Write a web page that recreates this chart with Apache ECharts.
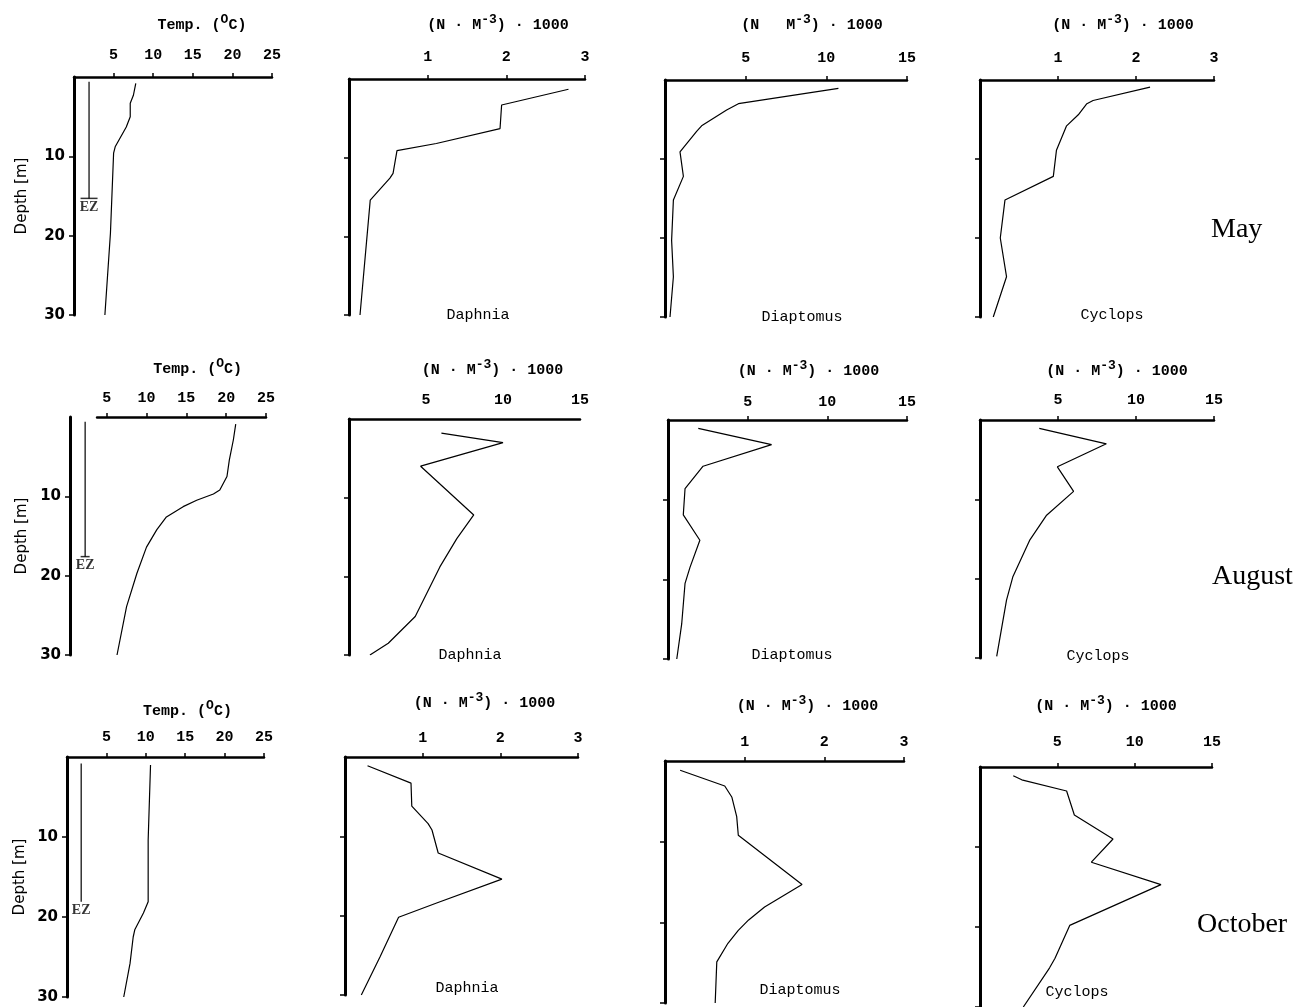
<!DOCTYPE html>
<html><head><meta charset="utf-8">
<script src="https://cdn.jsdelivr.net/npm/echarts@6/dist/echarts.min.js"></script>
<style>html,body{margin:0;padding:0;background:#fff}#c{width:1295px;height:1007px}</style>
</head><body><div id="c"></div>
<script>
// ---------------- data ----------------
const months = ['May', 'August', 'October'];
const species = ['Daphnia', 'Diaptomus', 'Cyclops'];
const tempTicks = [5, 10, 15, 20, 25];
const lowTicks = [1, 2, 3];
const highTicks = [5, 10, 15];
const depthTicks = [10, 20, 30];

// [value, depth m]
const mayTemp = [[7.8,0.8],[7.5,2.3],[7.1,3.3],[7.1,5.0],[6.6,6.3],[5.2,8.8],[5.0,9.6],[4.6,19.7],[3.9,30]];
const augTemp = [[21.2,0.9],[20.9,2.9],[20.4,5.4],[20.1,7.5],[19.2,9.2],[18.4,9.7],[16.3,10.5],[14.6,11.3],[12.5,12.6],[11.3,14.2],[10.0,16.4],[8.8,19.7],[7.5,23.9],[6.3,30]];
const octTemp = [[10.6,1.0],[10.3,10.4],[10.3,18.1],[9.7,19.5],[8.6,21.6],[8.4,22.5],[8.0,25.8],[7.2,30]];

const mayDaphnia = [[2.79,1.3],[1.94,3.3],[1.92,6.3],[1.11,8.2],[0.61,9.1],[0.56,12.0],[0.52,12.6],[0.27,15.4],[0.14,30]];
const mayDiaptomus = [[10.75,1.05],[4.55,3.0],[3.82,3.8],[2.27,5.8],[1.96,6.5],[0.93,9.1],[1.14,12.2],[0.52,15.2],[0.41,20.3],[0.52,24.9],[0.31,30]];
const mayCyclops = [[2.18,0.9],[1.45,2.6],[1.37,3.0],[1.26,4.4],[1.11,5.8],[0.98,8.9],[0.94,12.2],[0.32,15.2],[0.26,20.0],[0.34,24.9],[0.17,30]];

const augDaphnia = [[6.0,1.8],[10.0,3.0],[4.65,6.0],[8.1,12.2],[7.0,15.2],[5.9,18.8],[4.3,25.1],[2.55,28.5],[1.36,30]];
const augDiaptomus = [[1.9,1.05],[6.5,3.1],[2.2,5.8],[2.0,6.3],[1.07,8.6],[0.96,11.9],[2.0,15.1],[1.38,18.5],[1.07,20.5],[0.86,25.6],[0.55,30]];
const augCyclops = [[3.8,1.05],[8.1,3.0],[4.96,5.9],[6.0,9.0],[4.27,12.0],[3.2,15.1],[2.1,19.8],[1.7,22.7],[1.07,29.8]];

const octDaphnia = [[0.29,1.1],[0.85,3.3],[0.86,6.2],[1.07,8.4],[1.12,9.2],[1.2,12.1],[2.02,15.4],[1.18,18.4],[0.69,20.2],[0.45,25.2],[0.21,30]];
const octDiaptomus = [[0.19,1.15],[0.75,3.1],[0.84,4.5],[0.90,6.9],[0.92,9.2],[1.72,15.3],[1.25,18.1],[1.05,19.7],[0.92,21.0],[0.79,22.6],[0.65,24.9],[0.63,30]];
const octCyclops = [[2.15,1.1],[2.7,1.6],[5.6,3.0],[6.1,6.0],[8.6,9.0],[7.2,11.9],[11.7,14.7],[5.8,19.8],[4.85,23.9],[4.5,25.1],[2.8,30]];

// euphotic zone marker (temperature-axis position, top and bottom depth)
const ezTemp = [1.9, 2.3, 1.8];
const ezTop = [0.6, 0.6, 0.8];
const ezDepth = [15.3, 17.6, 18.1];

// ---------------- layout ----------------
const tempTitle = 'Temp. ({sup|O}C)';
const densTitle = '(N · M{sup|-3}) · 1000';
// g = [left, top, width, height] of the plotted area; axisStart = value where the drawn x-axis line begins
const panels = [
  // May
  {data: mayTemp, temp: 0, g:[74,77,198,238], min:0, max:25, ticks:tempTicks, title:tempTitle, gap:40, shift:29, lm:14, yName:44},
  {data: mayDaphnia, g:[349,79,236,236], min:0, max:3, ticks:lowTicks, title:densTitle, gap:42, shift:31, lm:14, sp:[478,315]},
  {data: mayDiaptomus, g:[665,80,242,237], min:0, max:15, ticks:highTicks, title:'(N   M{sup|-3}) · 1000', gap:43, shift:26, lm:14, sp:[802,317]},
  {data: mayCyclops, g:[980,80,234,237], min:0, max:3, ticks:lowTicks, title:densTitle, gap:43, shift:26, lm:14, sp:[1112,315]},
  // August
  {data: augTemp, temp: 1, g:[70,417,196,238], min:0.4, max:25, axisStart:3.8, ticks:tempTicks, title:tempTitle, gap:36, shift:16, lm:11, yName:40},
  {data: augDaphnia, g:[349,419,231,236], min:0, max:15, ticks:highTicks, title:densTitle, gap:37, shift:28, lm:11, sp:[470,655], noTick:true},
  {data: augDiaptomus, g:[668,420,239,239], min:0, max:15, ticks:highTicks, title:densTitle, gap:37, shift:21, lm:10, sp:[792,655]},
  {data: augCyclops, g:[980,420,234,238], min:0, max:15, ticks:highTicks, title:densTitle, gap:37, shift:20, lm:12, sp:[1098,656]},
  // October
  {data: octTemp, temp: 2, g:[67,757,197,240], min:0, max:25, ticks:tempTicks, title:tempTitle, gap:34, shift:22, lm:12, yName:39},
  {data: octDaphnia, g:[345,757,233,238], min:0, max:3, ticks:lowTicks, title:densTitle, gap:42, shift:23, lm:11, sp:[467,988]},
  {data: octDiaptomus, g:[665,761,239,242], min:0, max:3, ticks:lowTicks, title:densTitle, gap:43, shift:23, lm:11, sp:[800,990]},
  {data: octCyclops, g:[980,767,232,240], min:0, max:15, ticks:highTicks, title:densTitle, gap:49, shift:10, lm:17, sp:[1077,992]}
];
const monthPos = [[1211,230],[1212,577],[1197,925]];
const capWidth = [17, 9, 0];

const MONO = '"Liberation Mono", "DejaVu Sans Mono", monospace';
const SANS = '"DejaVu Sans", "Liberation Sans", sans-serif';
const SERIF = '"Liberation Serif", "DejaVu Serif", serif';

const grid = [], xAxis = [], yAxis = [], series = [], graphic = [];

function xAxisOpt(gi, p, min, visible) {
  return {
    gridIndex: gi, type: 'value', position: 'top', min: min, max: p.max, show: visible,
    splitLine: {show: false},
    axisLine: {show: true, onZero: false, lineStyle: {color: '#000', width: 2.5}},
    axisTick: {show: !p.noTick, customValues: p.ticks, length: 4, lineStyle: {color: '#000', width: 1.5}},
    axisLabel: {customValues: p.ticks, margin: p.lm, color: '#000', fontFamily: MONO, fontWeight: 'bold', fontSize: 15},
    name: visible ? p.title : '', nameLocation: 'middle', nameGap: p.gap,
    nameTextStyle: {color: '#000', fontFamily: MONO, fontWeight: 'bold', fontSize: 15, padding: [0, 0, 0, 2 * p.shift],
      rich: {sup: {fontFamily: MONO, fontWeight: 'bold', fontSize: 13, padding: [0, 0, 11, 0]}}}
  };
}

panels.forEach((p, i) => {
  const isTemp = p.temp !== undefined;
  const gi = grid.length;
  grid.push({left: p.g[0], top: p.g[1], width: p.g[2], height: p.g[3], containLabel: false});
  const split = p.axisStart !== undefined;
  xAxis.push(xAxisOpt(gi, p, p.min, !split));
  yAxis.push({
    gridIndex: gi, type: 'value', inverse: true, min: 0, max: 30,
    splitLine: {show: false},
    axisLine: {show: true, onZero: false, lineStyle: {color: '#000', width: 3}},
    axisTick: {show: true, customValues: depthTicks, length: 5, lineStyle: {color: '#000', width: 1.5}},
    axisLabel: {show: isTemp, customValues: depthTicks, margin: 9, color: '#000', fontFamily: SANS, fontWeight: 'bold', fontSize: 15},
    name: isTemp ? 'Depth [m]' : '', nameLocation: 'middle', nameGap: p.yName || 0, nameRotate: 90,
    nameTextStyle: {color: '#000', fontFamily: SANS, fontSize: 15}
  });
  if (split) {
    // the drawn temperature axis starts at axisStart, same scale as the data grid
    const pxPerUnit = p.g[2] / (p.max - p.min);
    const off = (p.axisStart - p.min) * pxPerUnit;
    const gj = grid.length;
    grid.push({left: p.g[0] + off, top: p.g[1], width: p.g[2] - off, height: p.g[3], containLabel: false});
    xAxis.push(xAxisOpt(gj, p, p.axisStart, true));
    yAxis.push({gridIndex: gj, type: 'value', inverse: true, min: 0, max: 30, show: false});
  }
  series.push({
    type: 'line', xAxisIndex: gi, yAxisIndex: gi, data: p.data, symbol: 'none', silent: true,
    lineStyle: {color: '#000', width: 1.2}, animation: false
  });
  if (isTemp) {
    const m = p.temp;
    series.push({
      type: 'line', xAxisIndex: gi, yAxisIndex: gi, symbol: 'none', silent: true,
      data: [[ezTemp[m], ezTop[m]], [ezTemp[m], ezDepth[m]]],
      lineStyle: {color: '#000', width: 1.2}, animation: false
    });
    series.push({
      type: 'scatter', xAxisIndex: gi, yAxisIndex: gi, silent: true,
      symbol: 'rect', symbolSize: [capWidth[m], 1.5], itemStyle: {color: '#000'},
      data: [[ezTemp[m], ezDepth[m]]],
      label: {show: true, formatter: 'EZ', position: 'bottom', distance: 1, color: '#000', fontFamily: SERIF, fontWeight: 'bold', fontSize: 14},
      animation: false
    });
  }
  if (p.sp) {
    graphic.push({type: 'text', x: p.sp[0], y: p.sp[1], silent: true,
      style: {text: species[(i % 4) - 1], align: 'center', verticalAlign: 'middle', fill: '#000', font: '15px ' + MONO}});
  }
});
months.forEach((m, k) => {
  graphic.push({type: 'text', x: monthPos[k][0], y: monthPos[k][1], silent: true,
    style: {text: m, align: 'left', verticalAlign: 'middle', fill: '#000', font: '28px ' + SERIF}});
});

const chart = echarts.init(document.getElementById('c'), null, {renderer: 'canvas'});
chart.setOption({animation: false, backgroundColor: '#fff', grid, xAxis, yAxis, series, graphic});
</script>
</body></html>
